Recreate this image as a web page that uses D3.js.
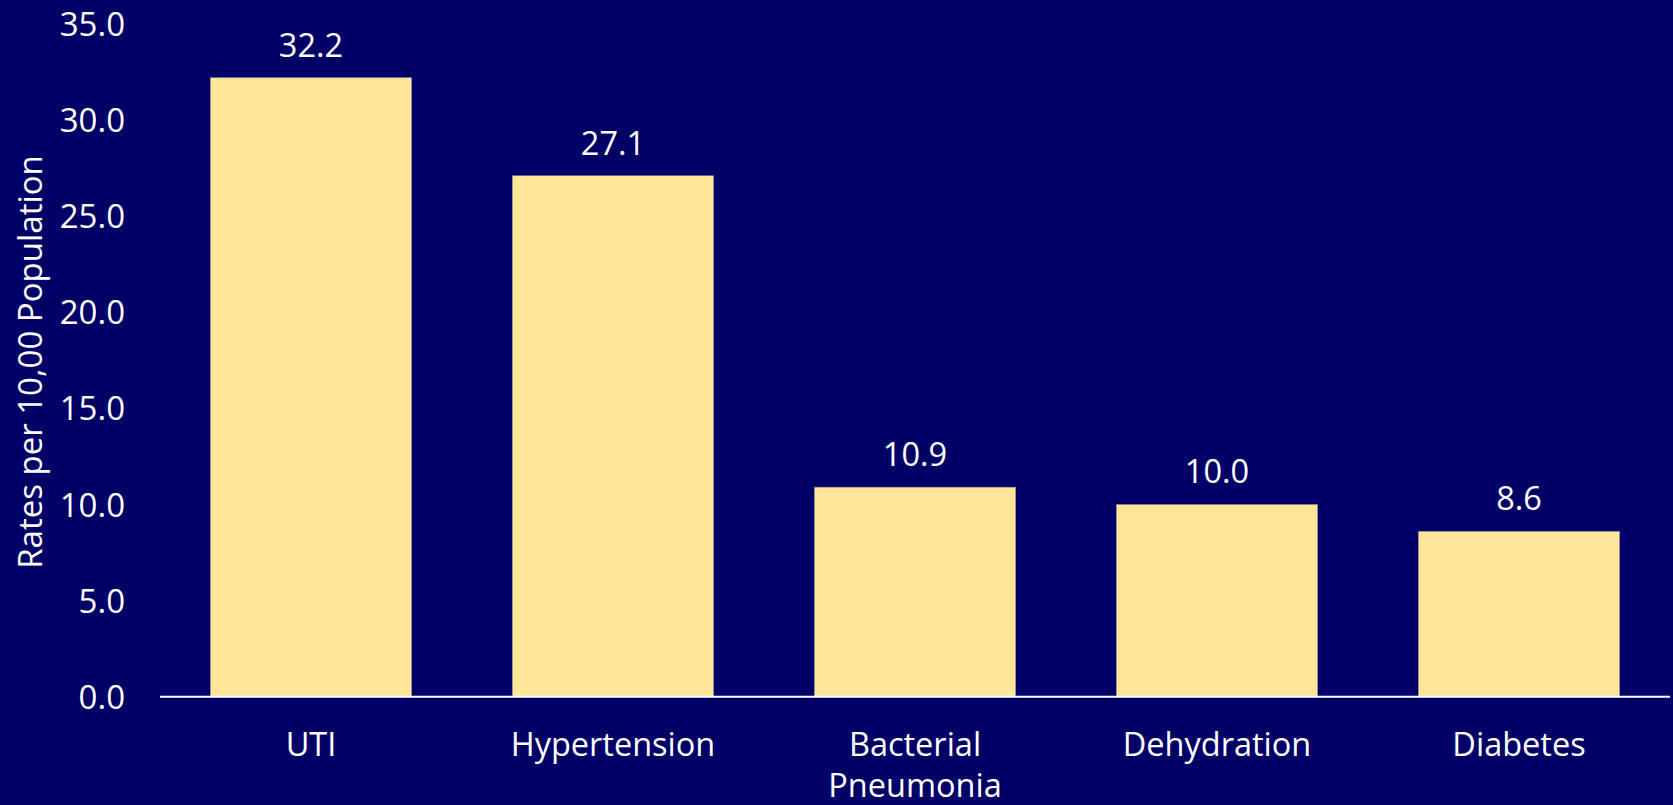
<!DOCTYPE html>
<html><head><meta charset="utf-8">
<script src="https://cdn.jsdelivr.net/npm/d3@7"></script>
<style>
html,body{margin:0;padding:0;background:#000066;overflow:hidden;}
text{font-family:"Open Sans",sans-serif;fill:#ffffff;}
</style></head>
<body>
<svg id="chart" width="1673" height="805"></svg>
<script>
const categories = [["UTI"], ["Hypertension"], ["Bacterial", "Pneumonia"], ["Dehydration"], ["Diabetes"]];
const values = [32.2, 27.1, 10.9, 10.0, 8.6];
const yTicks = [0, 5, 10, 15, 20, 25, 30, 35];
const yTitle = "Rates per 10,00 Population";

const W = 1673, H = 805;
const svg = d3.select("#chart");
svg.append("rect").attr("width", W).attr("height", H).attr("fill", "#000066");

const left = 160, right = 1670, y0 = 696.7, yTop = 23.9;
const keys = categories.map(c => c.join(" "));
const x = d3.scaleBand().domain(keys).range([left, right]).paddingInner(0.3334).paddingOuter(0.1667);
const y = d3.scaleLinear().domain([0, 35]).range([y0, yTop]);

// y axis labels
const yAxis = d3.axisLeft(y).tickValues(yTicks).tickFormat(d3.format(".1f")).tickSize(0).tickPadding(0);
const gy = svg.append("g").attr("transform", "translate(125,0)").call(yAxis);
gy.select(".domain").remove();
gy.selectAll("text").attr("fill", "#fff").style("font-size", "33px").style("font-family", "'Open Sans',sans-serif").attr("dy", "0.35em");

// bars
svg.selectAll("rect.bar").data(values).enter().append("rect")
  .attr("class", "bar")
  .attr("x", (d, i) => x(keys[i]))
  .attr("width", x.bandwidth())
  .attr("y", d => y(d))
  .attr("height", d => y0 - y(d))
  .attr("fill", "#FFE699")
  .attr("stroke", "#8a8aa0").attr("stroke-width", 0.6);

// value labels
svg.selectAll("text.val").data(values).enter().append("text")
  .attr("class", "val")
  .attr("x", (d, i) => x(keys[i]) + x.bandwidth() / 2)
  .attr("y", d => y(d) - 21)
  .attr("text-anchor", "middle")
  .style("font-size", "32.5px")
  .text(d => d3.format(".1f")(d));

// x axis
const xAxis = d3.axisBottom(x).tickSize(0).tickFormat("");
const gx = svg.append("g").attr("transform", `translate(0,${y0})`).call(xAxis);
gx.select(".domain").attr("stroke", "#ffffff").attr("stroke-width", 2).attr("d", `M${left},0H${right}`);

// category labels
categories.forEach((lines, i) => {
  const t = svg.append("text")
    .attr("x", x(keys[i]) + x.bandwidth() / 2)
    .attr("y", 756)
    .attr("text-anchor", "middle")
    .style("font-size", "32.5px");
  lines.forEach((ln, j) => {
    t.append("tspan").attr("x", x(keys[i]) + x.bandwidth() / 2).attr("dy", j === 0 ? 0 : 41).text(ln);
  });
});

// y title
svg.append("text")
  .attr("transform", `translate(42,362) rotate(-90)`)
  .attr("text-anchor", "middle")
  .style("font-size", "33px")
  .text(yTitle);
</script>
</body></html>
